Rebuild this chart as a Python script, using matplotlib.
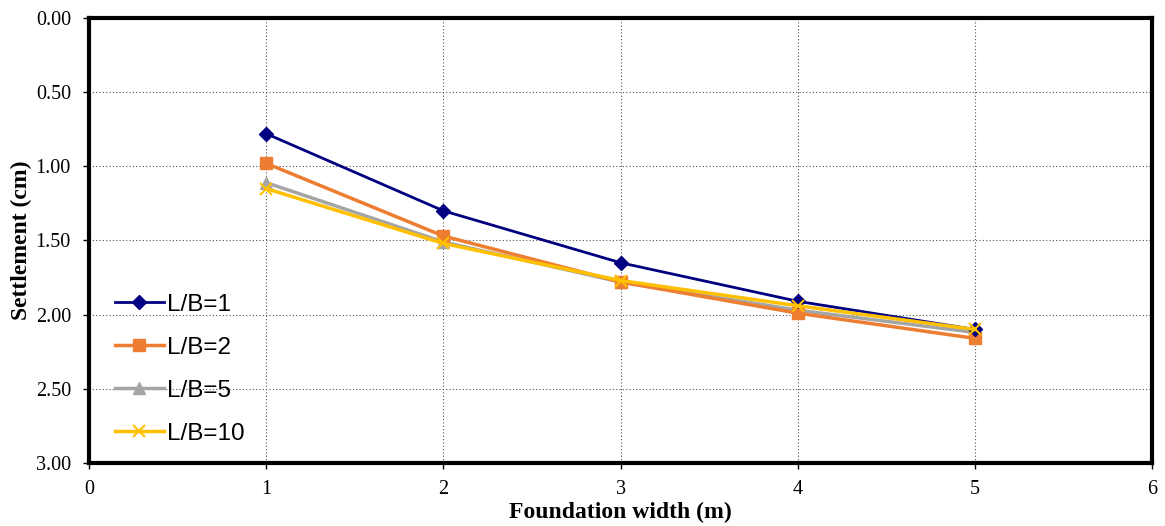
import matplotlib.pyplot as plt
from matplotlib.ticker import MultipleLocator, FormatStrFormatter

# Foundation width (m)
width_m = [1, 2, 3, 4, 5]

# Settlement (cm) for each L/B ratio
settle_lb1 = [0.78, 1.30, 1.65, 1.91, 2.10]
settle_lb2 = [0.98, 1.47, 1.78, 1.99, 2.16]
settle_lb5 = [1.11, 1.51, 1.78, 1.97, 2.12]
settle_lb10 = [1.15, 1.52, 1.77, 1.94, 2.10]

series_labels = ['L/B=1', 'L/B=2', 'L/B=5', 'L/B=10']

fig = plt.figure(figsize=(11.65, 5.26), dpi=100)
ax = fig.add_axes([0.0764, 0.1198, 0.9126, 0.846])

ax.plot(width_m, settle_lb1, color='#000080', lw=2, marker='D', ms=7, label=series_labels[0], zorder=5)
ax.plot(width_m, settle_lb2, color='#ED7D31', lw=2.5, marker='s', ms=9, label=series_labels[1], zorder=4)
ax.plot(width_m, settle_lb5, color='#A5A5A5', lw=2.5, marker='^', ms=9, label=series_labels[2], zorder=3)
ax.plot(width_m, settle_lb10, color='#FFC000', lw=2.5, marker='x', ms=9, mew=1.5, label=series_labels[3], zorder=6)

ax.set_xlim(0, 6)
ax.set_ylim(3, 0)
ax.xaxis.set_major_locator(MultipleLocator(1))
ax.yaxis.set_major_locator(MultipleLocator(0.5))
ax.yaxis.set_major_formatter(FormatStrFormatter('%.2f'))

ax.grid(True, color='#555555', linestyle=(0, (1, 2)), lw=0.8)
for sp in ax.spines.values():
    sp.set_linewidth(3)
    sp.set_color('black')

ax.tick_params(axis='both', labelsize=14.5, length=4, width=1, direction='out')
ax.tick_params(axis='x', pad=8)
ax.tick_params(axis='y', pad=9)
for lbl in ax.get_xticklabels() + ax.get_yticklabels():
    lbl.set_family('Liberation Serif')

ax.set_xlabel('Foundation width (m)', fontsize=17, fontweight='bold', family='Liberation Serif', labelpad=2)
ax.set_ylabel('Settlement (cm)', fontsize=17, fontweight='bold', family='Liberation Serif', labelpad=3)

leg = ax.legend(loc='upper left', bbox_to_anchor=(0.004, 0.43), frameon=False,
                prop={'family': 'Liberation Sans', 'size': 17.5},
                handlelength=2.0, handletextpad=0.15, labelspacing=0.87, borderaxespad=0.5)

fig.savefig('out.png', dpi=100)
